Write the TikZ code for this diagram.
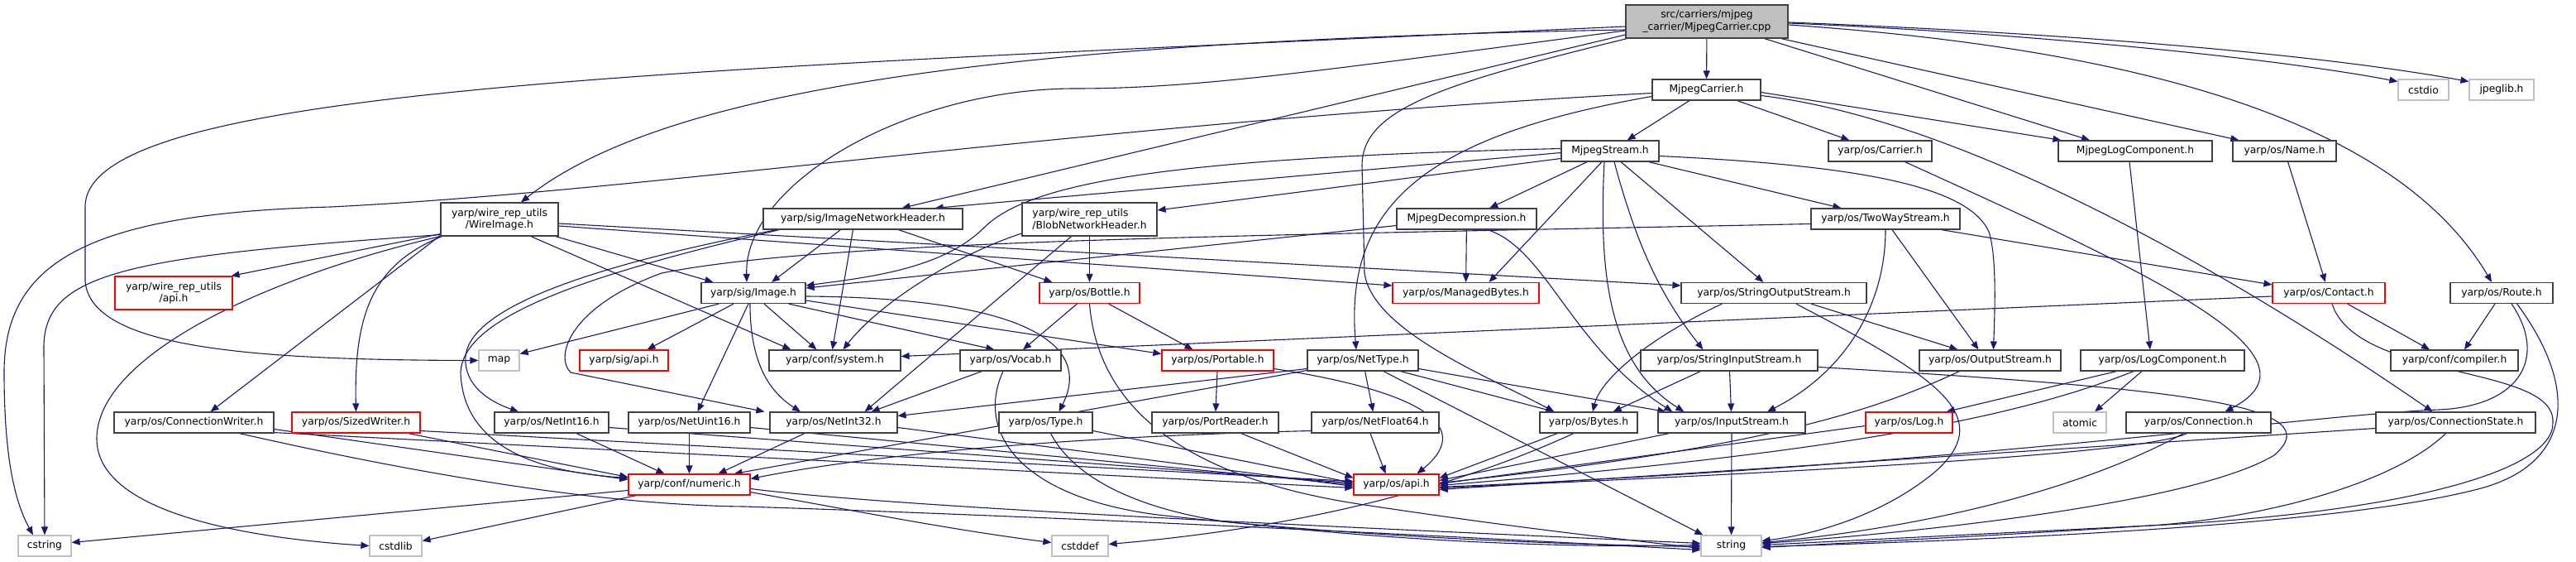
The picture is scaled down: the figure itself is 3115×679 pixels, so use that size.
\documentclass[tikz,border=0pt]{standalone}
\usepackage{fontspec}
\setmainfont{DejaVu Sans}
\usetikzlibrary{arrows.meta,calc}
\pgfdeclarelayer{bg}
\pgfsetlayers{bg,main}
\definecolor{edgec}{HTML}{191970}
\definecolor{rootfill}{HTML}{BFBFBF}
\definecolor{bord}{HTML}{404040}
\definecolor{gbord}{HTML}{BFBFBF}
\definecolor{rbord}{HTML}{FF0000}
\newcommand{\nfont}{\fontsize{12.3}{14.5}\selectfont}
\begin{document}
\begin{tikzpicture}[x=1pt,y=-1pt,
 nd/.style={draw=bord, line width=1.2pt, fill=white, minimum height=25pt, inner sep=0pt, font=\nfont, align=center},
 nr/.style={nd, draw=rbord},
 ng/.style={nd, draw=gbord},
 ed/.style={draw=edgec, line width=1.1pt, -{Triangle[length=10pt,width=8pt]}}]
\useasboundingbox (0,0) rectangle (3115,679);
% row 0-1
\node[nd, fill=rootfill, minimum width=196pt, minimum height=40pt] (root) at (2064,26) {src/carriers/mjpeg\\\_carrier/MjpegCarrier.cpp};
\node[nd, minimum width=131pt] (mch) at (2063.5,108.5) {MjpegCarrier.h};
\node[ng, minimum width=61pt] (cstdio) at (2930.5,108.5) {cstdio};
\node[ng, minimum width=78pt] (jpeglib) at (3025,108.5) {jpeglib.h};
% row 2
\node[nd, minimum width=118pt] (mstream) at (1947,182.5) {MjpegStream.h};
\node[nd, minimum width=125pt] (carrier) at (2273.5,182.5) {yarp/os/Carrier.h};
\node[nd, minimum width=186pt] (mlog) at (2582,182.5) {MjpegLogComponent.h};
\node[nd, minimum width=125pt] (name) at (2762.5,182.5) {yarp/os/Name.h};
% row 3
\node[nd, minimum width=142pt, minimum height=40pt] (wire) at (604,265) {yarp/wire\_rep\_utils\\/WireImage.h};
\node[nd, minimum width=241pt] (inh) at (1043.5,264.5) {yarp/sig/ImageNetworkHeader.h};
\node[nd, minimum width=163pt, minimum height=40pt, align=left] (blob) at (1317.5,265) {yarp/wire\_rep\_utils\\/BlobNetworkHeader.h};
\node[nd, minimum width=169pt] (mdec) at (1773.5,264.5) {MjpegDecompression.h};
\node[nd, minimum width=180pt] (tws) at (2280,264.5) {yarp/os/TwoWayStream.h};
% row 4
\node[nr, minimum width=142pt, minimum height=40pt] (wapi) at (210,354) {yarp/wire\_rep\_utils\\/api.h};
\node[nd, minimum width=126pt] (image) at (911,354) {yarp/sig/Image.h};
\node[nr, minimum width=121pt] (bottle) at (1317.5,354) {yarp/os/Bottle.h};
\node[nr, minimum width=177pt] (mbytes) at (1772.5,354) {yarp/os/ManagedBytes.h};
\node[nd, minimum width=224pt] (sos) at (2145,354) {yarp/os/StringOutputStream.h};
\node[nr, minimum width=136pt] (contact) at (2816,354) {yarp/os/Contact.h};
\node[nd, minimum width=124pt] (route) at (3025,354) {yarp/os/Route.h};
% row 5
\node[ng, minimum width=49pt] (map) at (603.5,435.5) {map};
\node[nr, minimum width=107pt] (sapi) at (754.5,435.5) {yarp/sig/api.h};
\node[nd, minimum width=159pt] (system) at (1009.5,435.5) {yarp/conf/system.h};
\node[nd, minimum width=122pt] (vocab) at (1222,435.5) {yarp/os/Vocab.h};
\node[nr, minimum width=135pt] (portable) at (1472.5,435.5) {yarp/os/Portable.h};
\node[nd, minimum width=134pt] (nettype) at (1648,435.5) {yarp/os/NetType.h};
\node[nd, minimum width=214pt] (sis) at (2091,435.5) {yarp/os/StringInputStream.h};
\node[nd, minimum width=171pt] (os) at (2406.5,435.5) {yarp/os/OutputStream.h};
\node[nd, minimum width=198pt] (logc) at (2615,435.5) {yarp/os/LogComponent.h};
\node[nd, minimum width=154pt] (compiler) at (2968,435.5) {yarp/conf/compiler.h};
% row 6
\node[nd, minimum width=193pt] (cw) at (234.5,510.5) {yarp/os/ConnectionWriter.h};
\node[nr, minimum width=155pt] (sw) at (430.5,510.5) {yarp/os/SizedWriter.h};
\node[nd, minimum width=138pt] (ni16) at (667,510.5) {yarp/os/NetInt16.h};
\node[nd, minimum width=147pt] (nu16) at (833.5,510.5) {yarp/os/NetUint16.h};
\node[nd, minimum width=154pt] (ni32) at (1008,510.5) {yarp/os/NetInt32.h};
\node[nd, minimum width=113pt] (type) at (1264.5,510.5) {yarp/os/Type.h};
\node[nd, minimum width=153pt] (preader) at (1469.5,510.5) {yarp/os/PortReader.h};
\node[nd, minimum width=154pt] (nf64) at (1663,510.5) {yarp/os/NetFloat64.h};
\node[nd, minimum width=118pt] (bytes) at (1921,510.5) {yarp/os/Bytes.h};
\node[nd, minimum width=178pt] (is) at (2094,510.5) {yarp/os/InputStream.h};
\node[nr, minimum width=105pt] (log) at (2308.5,510.5) {yarp/os/Log.h};
\node[ng, minimum width=64pt] (atomic) at (2515,510.5) {atomic};
\node[nd, minimum width=175pt] (conn) at (2658.5,510.5) {yarp/os/Connection.h};
\node[nd, minimum width=193pt] (cstate) at (2969.5,510.5) {yarp/os/ConnectionState.h};
% row 7-8
\node[nr, minimum width=147pt] (numeric) at (833.5,585.5) {yarp/conf/numeric.h};
\node[nr, minimum width=103pt] (osapi) at (1688.5,585.5) {yarp/os/api.h};
\node[ng, minimum width=64pt] (cstring) at (54,659.5) {cstring};
\node[ng, minimum width=63pt] (cstdlib) at (478.5,659.5) {cstdlib};
\node[ng, minimum width=68pt] (cstddef) at (1306,659.5) {cstddef};
\node[ng, minimum width=73pt] (string) at (2093.5,659.5) {string};

\begin{pgfonlayer}{bg}
% root
\draw[ed] (root) -- (mch);
\draw[ed] ($(root.west)+(0,6)$) .. controls (800,85) and (103,105) .. (103,250) -- (103,340) .. controls (110,420) and (300,435) .. (map.west);
\draw[ed] ($(root.west)+(0,10)$) .. controls (1200,50) and (800,110) .. ($(wire.north)+(26,0)$);
\draw[ed] ($(root.west)+(0,11)$) .. controls (1600,85) and (1450,107) .. (1300,107) .. controls (1100,107) and (900,220) .. ($(image.north)+(-8,0)$);
\draw[ed] ($(root.west)+(0,16)$) -- ($(inh.north east)+(-74,0)$);
\draw[ed] ($(root.south west)+(10,-2)$) .. controls (1750,100) and (1647,130) .. (1647,200) -- (1650,330) .. controls (1660,400) and (1800,455) .. ($(bytes.north west)+(18,0)$);
\draw[ed] ($(root.south east)+(-29,0)$) -- ($(mlog.north)+(-55,0)$);
\draw[ed] ($(root.south east)+(-9,0)$) -- ($(name.north west)+(8,0)$);
\draw[ed] ($(root.east)+(0,4)$) .. controls (2600,60) and (2900,150) .. ($(route.north)+(-12,0)$);
\draw[ed] ($(root.east)+(0,2)$) .. controls (2450,40) and (2750,70) .. ($(cstdio.west)+(0,-10)$);
\draw[ed] ($(root.east)+(0,1)$) .. controls (2500,40) and (2800,65) .. ($(jpeglib.west)+(0,-10)$);
% MjpegCarrier.h
\draw[ed] (mch) -- (mstream);
\draw[ed] (mch) -- (carrier);
\draw[ed] ($(mch.east)+(0,3)$) -- ($(mlog.north west)+(4,0)$);
\draw[ed] ($(mch.east)+(0,7)$) .. controls (2420,150) and (2800,400) .. ($(cstate.north)+(-28,0)$);
\draw[ed] ($(mch.west)+(0,8)$) .. controls (1720,165) and (1625,250) .. ($(nettype.north)+(-8,0)$);
\draw[ed] ($(mch.west)+(0,4)$) .. controls (1300,150) and (800,230) .. (400,250) .. controls (100,258) and (5,320) .. (5,450) .. controls (5,560) and (20,610) .. ($(cstring.north)+(-14,0)$);
% MjpegStream.h
\draw[ed] (mstream) -- (mdec);
\draw[ed] ($(mstream.west)+(0,2)$) -- ($(inh.north east)+(-34,0)$);
\draw[ed] ($(mstream.west)+(0,9)$) -- ($(blob.east)+(0,-11)$);
\draw[ed] ($(mstream.west)+(0,-3)$) .. controls (1450,190) and (1250,215) .. (1190,275) .. controls (1140,325) and (1050,335) .. ($(image.east)+(0,-9)$);
\draw[ed] ($(mstream.south)+(-10,0)$) -- ($(mbytes.north)+(28,0)$);
\draw[ed] ($(mstream.south)+(-7,0)$) .. controls (1933,330) and (1945,440) .. ($(is.north west)+(32,0)$);
\draw[ed] ($(mstream.south)+(5,0)$) .. controls (1980,300) and (2010,360) .. ($(sis.north west)+(76,0)$);
\draw[ed] ($(mstream.south)+(13,0)$) -- ($(sos.north west)+(100,0)$);
\draw[ed] ($(mstream.south east)+(-13,0)$) -- ($(tws.north west)+(37,0)$);
\draw[ed] ($(mstream.east)+(0,6)$) .. controls (2250,200) and (2380,225) .. (2405,280) .. controls (2415,310) and (2412,380) .. ($(os.north)+(4,0)$);
% MjpegDecompression.h
\draw[ed] (mdec) -- (mbytes);
\draw[ed] ($(mdec.south east)+(-60,0)$) .. controls (1870,300) and (1900,420) .. ($(is.north west)+(18,0)$);
\draw[ed] ($(mdec.west)+(0,8)$) -- ($(image.east)+(0,-6)$);
% WireImage
\draw[ed] ($(wire.south west)+(0,-3)$) -- ($(wapi.north east)+(-2,0)$);
\draw[ed] ($(wire.south west)+(0,-2)$) .. controls (150,310) and (53,330) .. (53,420) -- (cstring.north);
\draw[ed] (wire.south west) .. controls (320,335) and (117,430) .. (117,530) .. controls (117,620) and (300,650) .. (cstdlib.west);
\draw[ed] ($(wire.south west)+(0,-1)$) -- ($(cw.north)+(20,0)$);
\draw[ed] ($(wire.south west)+(2,0)$) .. controls (450,320) and (428,380) .. (sw.north);
\draw[ed] ($(wire.south)+(68,0)$) -- ($(image.north west)+(15,0)$);
\draw[ed] ($(wire.south)+(38,0)$) -- ($(system.north west)+(27,0)$);
\draw[ed] ($(wire.east)+(0,8)$) -- ($(mbytes.west)+(0,-9)$);
\draw[ed] ($(wire.east)+(0,5)$) -- ($(sos.west)+(0,-9)$);
% Image.h
\draw[ed] ($(image.south west)+(22,0)$) -- ($(map.east)+(0,-8)$);
\draw[ed] ($(image.south)+(-24,0)$) -- ($(sapi.north)+(28,0)$);
\draw[ed] ($(image.south)+(13,0)$) -- ($(system.north)+(-22,0)$);
\draw[ed] ($(image.south)+(-6,0)$) -- ($(nu16.north)+(10,0)$);
\draw[ed] ($(image.south)+(-4,0)$) .. controls (907,430) and (925,470) .. ($(ni32.north)+(-40,0)$);
\draw[ed] ($(image.south east)+(-21,0)$) -- ($(vocab.north west)+(42,0)$);
\draw[ed] ($(image.east)+(0,9)$) -- ($(portable.west)+(0,-8)$);
\draw[ed] ($(image.east)+(0,4)$) .. controls (1250,360) and (1320,420) .. ($(type.north)+(16,0)$);
% ImageNetworkHeader
\draw[ed] ($(inh.south)+(-27,0)$) -- ($(image.north)+(22,0)$);
\draw[ed] ($(inh.south)+(-12,0)$) -- ($(system.north)+(-3,0)$);
\draw[ed] ($(inh.south)+(43,0)$) -- ($(bottle.north west)+(16,0)$);
\draw[ed] ($(inh.south west)+(17,0)$) .. controls (720,320) and (570,370) .. (563,430) .. controls (560,470) and (600,488) .. ($(ni16.north)+(-40,0)$);
\draw[ed] ($(inh.south west)+(20,0)$) .. controls (720,330) and (560,380) .. (557,450) .. controls (560,540) and (650,570) .. ($(numeric.west)+(0,-8)$);
% BlobNetworkHeader
\draw[ed] (blob) -- (bottle);
\draw[ed] ($(blob.south)+(-22,0)$) -- ($(ni32.north east)+(-40,0)$);
\draw[ed] ($(blob.west)+(0,17)$) .. controls (1150,310) and (1060,370) .. ($(system.north)+(10,0)$);
% Bottle
\draw[ed] ($(bottle.south west)+(46,0)$) -- ($(vocab.north)+(15,0)$);
\draw[ed] ($(bottle.south east)+(-38,0)$) -- ($(portable.north)+(-30,0)$);
\draw[ed] (bottle.south) .. controls (1330,520) and (1480,585) .. (1650,610) .. controls (1850,640) and (1950,650) .. ($(string.west)+(0,3)$);
% Vocab
\draw[ed] ($(vocab.south west)+(27,0)$) -- ($(ni32.north east)+(-32,0)$);
\draw[ed] ($(vocab.south)+(-9,0)$) .. controls (1180,520) and (1230,600) .. (1400,622) .. controls (1650,650) and (1900,658) .. ($(string.west)+(0,1)$);
% Portable, PortReader, Type
\draw[ed] (portable) -- (preader);
\draw[ed] ($(portable.east)+(0,10)$) .. controls (1700,470) and (1790,510) .. ($(osapi.north)+(25,0)$);
\draw[ed] ($(preader.south east)+(-46,0)$) -- ($(osapi.west)+(0,-8)$);
\draw[ed] ($(type.east)+(0,10)$) -- ($(osapi.west)+(0,-2)$);
\draw[ed] ($(type.south)+(6,0)$) .. controls (1300,580) and (1380,615) .. (1480,630) .. controls (1700,655) and (1900,662) .. ($(string.west)+(0,-1)$);
% NetType
\draw[ed] (nettype) -- (nf64);
\draw[ed] ($(nettype.south east)+(-22,0)$) -- ($(bytes.north west)+(18,0)$);
\draw[ed] ($(nettype.east)+(0,10)$) -- ($(is.north west)+(10,0)$);
\draw[ed] ($(nettype.south)+(25,0)$) -- ($(string.north west)+(3,0)$);
\draw[ed] ($(nettype.west)+(0,10)$) -- ($(ni32.east)+(0,-8)$);
\draw[ed] ($(nettype.west)+(0,12)$) -- ($(numeric.north east)+(-20,0)$);
% NetFloat64
\draw[ed] ($(nf64.west)+(0,10)$) .. controls (1200,530) and (1000,560) .. ($(numeric.east)+(0,-7)$);
\draw[ed] ($(nf64.south)+(-6,0)$) -- ($(osapi.north)+(-13,0)$);
% NetInt16, NetUint16, NetInt32
\draw[ed] ($(ni16.south)+(30,0)$) -- ($(numeric.north)+(-30,0)$);
\draw[ed] ($(ni16.east)+(0,6)$) -- ($(osapi.west)+(0,-2)$);
\draw[ed] (nu16) -- (numeric);
\draw[ed] ($(nu16.east)+(0,6)$) -- (osapi.west);
\draw[ed] ($(ni32.south)+(-35,0)$) -- ($(numeric.north)+(35,0)$);
\draw[ed] ($(ni32.east)+(0,6)$) -- ($(osapi.west)+(0,2)$);
% ConnectionWriter, SizedWriter
\draw[ed] ($(cw.east)+(0,8)$) -- ($(numeric.west)+(0,-6)$);
\draw[ed] ($(cw.south east)+(0,-1)$) -- ($(osapi.west)+(0,4)$);
\draw[ed] ($(cw.south)+(55,0)$) .. controls (450,560) and (700,610) .. (900,612) .. controls (1300,625) and (1800,650) .. ($(string.west)+(0,5)$);
\draw[ed] ($(sw.south east)+(-15,0)$) -- ($(numeric.west)+(0,-9)$);
\draw[ed] ($(sw.east)+(0,10)$) -- ($(osapi.west)+(0,-4)$);
% numeric
\draw[ed] ($(numeric.west)+(0,7)$) -- ($(cstring.east)+(0,-4)$);
\draw[ed] ($(numeric.south west)+(10,0)$) -- ($(cstdlib.east)+(0,-6)$);
\draw[ed] ($(numeric.south east)+(0,-4)$) .. controls (1050,620) and (1150,640) .. ($(cstddef.west)+(0,-4)$);
\draw[ed] ($(numeric.east)+(0,5)$) .. controls (1100,615) and (1700,640) .. ($(string.west)+(0,-3)$);
% Bytes, InputStream
\draw[ed] ($(bytes.south west)+(22,0)$) -- ($(osapi.east)+(0,-8)$);
\draw[ed] ($(bytes.south)+(-18,0)$) .. controls (1780,580) and (1600,635) .. ($(cstddef.east)+(0,-2)$);
\draw[ed] (is) -- (string);
\draw[ed] ($(is.south west)+(14,0)$) -- ($(osapi.east)+(0,-5)$);
% StringInputStream
\draw[ed] (sis) -- (is);
\draw[ed] ($(sis.south west)+(73,0)$) -- ($(bytes.north east)+(-30,0)$);
\draw[ed] ($(sis.east)+(0,8)$) .. controls (2650,470) and (2820,490) .. (2750,550) .. controls (2650,610) and (2300,645) .. ($(string.east)+(0,-3)$);
% StringOutputStream
\draw[ed] ($(sos.south)+(45,0)$) -- ($(os.north west)+(47,0)$);
\draw[ed] ($(sos.south west)+(50,0)$) .. controls (1990,410) and (1935,460) .. ($(bytes.north)+(5,0)$);
\draw[ed] ($(sos.south)+(27,0)$) .. controls (2330,450) and (2420,500) .. (2340,570) .. controls (2280,620) and (2200,645) .. ($(string.east)+(0,-6)$);
% OutputStream
\draw[ed] ($(os.south west)+(49,0)$) .. controls (2280,490) and (2150,540) .. ($(osapi.east)+(0,-2)$);
% TwoWayStream
\draw[ed] ($(tws.south east)+(-23,0)$) -- ($(contact.west)+(0,-10)$);
\draw[ed] (tws.south) .. controls (2280,370) and (2230,450) .. ($(is.north)+(43,0)$);
\draw[ed] ($(tws.south)+(8,0)$) -- ($(os.north)+(-14,0)$);
\draw[ed] ($(tws.west)+(0,6)$) .. controls (1500,285) and (1000,290) .. (800,330) .. controls (690,370) and (670,430) .. (690,450) -- ($(ni32.north west)+(-6,0)$);
% Contact
\draw[ed] ($(contact.south east)+(-46,0)$) -- ($(compiler.north)+(-30,0)$);
\draw[ed] ($(contact.west)+(0,4)$) -- ($(system.east)+(0,-5)$);
\draw[ed] ($(contact.south)+(4,0)$) .. controls (2850,460) and (3090,440) .. (3087,510) .. controls (3090,570) and (2900,620) .. (2600,635) .. controls (2400,645) and (2200,655) .. ($(string.east)+(0,-1)$);
% Route
\draw[ed] ($(route.south)+(-8,0)$) -- ($(compiler.north)+(12,0)$);
\draw[ed] ($(route.south)+(12,0)$) .. controls (3080,430) and (3050,490) .. (2950,495) .. controls (2800,500) and (2400,560) .. ($(osapi.east)+(0,3)$);
\draw[ed] ($(route.south east)+(-44,0)$) .. controls (3120,470) and (3110,560) .. (3000,590) .. controls (2850,630) and (2500,650) .. ($(string.east)+(0,1)$);
% others
\draw[ed] ($(mlog.south)+(-7,0)$) -- ($(logc.north)+(-15,0)$);
\draw[ed] (name) -- (contact);
\draw[ed] ($(carrier.south)+(30,0)$) .. controls (2600,330) and (2820,430) .. ($(conn.north)+(32,0)$);
\draw[ed] ($(logc.south west)+(44,0)$) -- ($(log.north east)+(-8,0)$);
\draw[ed] ($(logc.south)+(-25,0)$) -- ($(atomic.north)+(18,0)$);
\draw[ed] ($(logc.south)+(-35,0)$) .. controls (2450,500) and (2250,545) .. ($(osapi.east)+(0,1)$);
\draw[ed] ($(log.west)+(0,4)$) -- ($(osapi.east)+(0,-1)$);
\draw[ed] ($(conn.south west)+(74,0)$) .. controls (2600,545) and (2300,565) .. ($(osapi.east)+(0,4)$);
\draw[ed] ($(conn.south west)+(70,0)$) .. controls (2500,600) and (2300,640) .. ($(string.east)+(0,-4)$);
\draw[ed] ($(cstate.west)+(0,7)$) -- ($(osapi.east)+(0,6)$);
\draw[ed] ($(cstate.south)+(-12,0)$) .. controls (2900,580) and (2750,625) .. (2600,635) .. controls (2400,648) and (2250,655) .. ($(string.east)+(0,2)$);
\end{pgfonlayer}
\end{tikzpicture}
\end{document}
